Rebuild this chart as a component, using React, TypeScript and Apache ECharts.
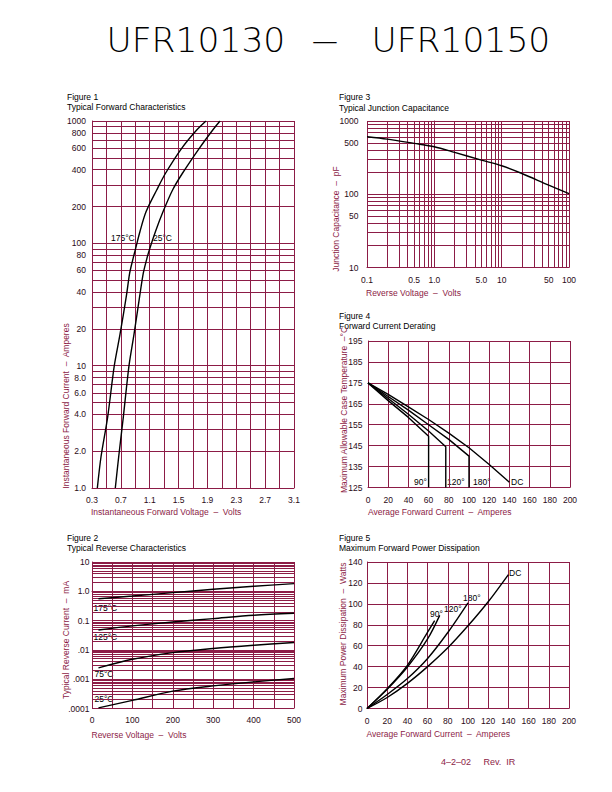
import React, { useEffect, useRef } from 'react';
import * as echarts from 'echarts';

// ---------- Figure 1: Typical Forward Characteristics ----------
const fig1Current = [1, 1.8, 3.8, 10, 18, 37, 57, 73, 88, 125, 181, 273, 374, 598, 833, 1000];
const fig1V175 = [0.374, 0.425, 0.517, 0.609, 0.688, 0.776, 0.822, 0.864, 0.899, 0.965, 1.049, 1.197, 1.319, 1.543, 1.742, 1.88];
const fig1V25 = [0.623, 0.67, 0.734, 0.813, 0.882, 0.961, 1.011, 1.055, 1.094, 1.18, 1.284, 1.417, 1.554, 1.787, 1.966, 2.074];
const fig1XTicks = [0.3, 0.7, 1.1, 1.5, 1.9, 2.3, 2.7, 3.1];
const fig1YTickVals = [1, 2, 4, 6, 8, 10, 20, 40, 60, 80, 100, 200, 400, 600, 800, 1000];
const fig1YTickText = ['1.0', '2.0', '4.0', '6.0', '8.0', '10', '20', '40', '60', '80', '100', '200', '400', '600', '800', '1000'];

// ---------- Figure 2: Typical Reverse Characteristics ----------
const fig2Volts = [16, 100, 200, 300, 400, 500];
const fig2I175 = [0.56, 0.69, 0.9, 1.17, 1.48, 1.83];
const fig2I125 = [0.048, 0.066, 0.09, 0.117, 0.152, 0.178];
const fig2I75 = [0.00244, 0.0048, 0.0081, 0.0112, 0.0144, 0.0178];
const fig2I25 = [0.000105, 0.00019, 0.00039, 0.00059, 0.00081, 0.00106];
const fig2YTickVals = [0.0001, 0.001, 0.01, 0.1, 1, 10];
const fig2YTickText = ['.0001', '.001', '.01', '0.1', '1.0', '10'];

// ---------- Figure 3: Typical Junction Capacitance ----------
const fig3Volts = [0.1, 0.2, 0.5, 1, 2, 5, 10, 20, 50, 100];
const fig3Cap = [610, 566, 495, 445, 373, 292, 245, 192, 133, 102];
const fig3XTickVals = [0.1, 0.5, 1, 5, 10, 50, 100];
const fig3XTickText = ['0.1', '0.5', '1.0', '5.0', '10', '50', '100'];
const fig3YTickVals = [10, 50, 100, 500, 1000];
const fig3YTickText = ['10', '50', '100', '500', '1000'];

// ---------- Figure 4: Forward Current Derating ----------
const fig4DcA = [0, 20, 40, 60, 80, 100, 120, 140];
const fig4DcT = [175, 169.5, 163.5, 157.5, 151, 144, 136, 127.5];
const fig4S180A = [0, 20, 40, 60, 80, 100, 100];
const fig4S180T = [175, 168.5, 162, 155, 148, 140, 125];
const fig4S120A = [0, 20, 40, 60, 77, 77];
const fig4S120T = [175, 167.5, 160, 152, 144.5, 125];
const fig4S90A = [0, 20, 40, 60, 60];
const fig4S90T = [175, 166.5, 158.5, 149.5, 125];
const fig4YTicks = [125, 135, 145, 155, 165, 175, 185, 195];

// ---------- Figure 5: Maximum Forward Power Dissipation ----------
const fig5DcA = [0, 20, 40, 60, 80, 100, 120, 140];
const fig5DcW = [0, 10.5, 24, 40, 58, 79, 102, 128];
const fig5S180A = [0, 20, 40, 60, 80, 100];
const fig5S180W = [0, 13.4, 28.6, 47.8, 72.6, 101];
const fig5S120A = [0, 20, 40, 60, 72];
const fig5S120W = [0, 18.4, 39.7, 66.5, 89];
const fig5S90A = [0, 20, 40, 60, 67];
const fig5S90W = [0, 19, 41.3, 73, 84];

// ---------- styling ----------
const GRID = '#8c1c46';
const LABEL = '#2b0b17';
const NAME = '#8c1c46';
const FONT = '"Liberation Sans", Arial, sans-serif';
const FS = 8.5;

const lg = (v: number) => Math.log10(v);
const decadeLines = (fromExp: number, toExp: number) => {
  const out: number[] = [];
  for (let e = fromExp; e < toExp; e++) for (let m = 1; m < 10; m++) out.push(lg(m * Math.pow(10, e)));
  out.push(toExp);
  return out;
};
const logFormatter = (vals: number[], texts: string[]) => (v: number) => {
  const i = vals.findIndex((t) => Math.abs(lg(t) - v) < 1e-6);
  return i >= 0 ? texts[i] : '';
};
const zip = (xs: number[], ys: number[], fx = (v: number) => v, fy = (v: number) => v) =>
  xs.map((x, i) => [fx(x), fy(ys[i])]);

function axis(gridIndex: number, extra: any, labelMargin: number) {
  return {
    gridIndex,
    type: 'value',
    axisLine: { show: true, lineStyle: { color: GRID, width: 1 } },
    splitLine: { show: true, lineStyle: { color: GRID, width: 1 } },
    ...extra,
    axisTick: { show: false, ...(extra.axisTick || {}) },
    axisLabel: { color: LABEL, fontSize: FS, fontFamily: FONT, margin: labelMargin, showMinLabel: true, showMaxLabel: true, ...(extra.axisLabel || {}) },
  };
}

function line(xi: number, data: number[][], smooth: number | boolean = 0.3) {
  return {
    type: 'line',
    xAxisIndex: xi,
    yAxisIndex: xi,
    data,
    smooth,
    symbol: 'none',
    silent: true,
    lineStyle: { color: '#000', width: 1.4 },
  };
}

function txt(x: number, y: number, text: string, o: any = {}) {
  return {
    type: 'text',
    x,
    y,
    rotation: o.rotation || 0,
    silent: true,
    style: {
      text,
      fill: o.fill || '#000',
      font: `${o.weight || 'normal'} ${o.size || FS}px ${o.family || FONT}`,
      textAlign: o.align || 'left',
      textVerticalAlign: 'middle',
      backgroundColor: o.bg,
      padding: o.bg ? [0, 1] : undefined,
    },
    scaleX: o.scaleX || 1,
  };
}

export default function App() {
  const ref = useRef<HTMLDivElement>(null);
  useEffect(() => {
    if (!ref.current) return;
    const chart = echarts.init(ref.current, undefined, { renderer: 'svg' });
    const option: any = {
      animation: false,
      backgroundColor: '#fff',
      grid: [
        { left: 92, top: 121, width: 202, height: 367 },
        { left: 92, top: 562, width: 202, height: 146.5 },
        { left: 367, top: 121, width: 202, height: 146.5 },
        { left: 368, top: 341, width: 202, height: 146.5 },
        { left: 367, top: 562, width: 202, height: 146.5 },
      ],
      xAxis: [
        axis(0, {
          min: 0.3, max: 3.1,
          axisTick: { customValues: [0.3, 0.5, 0.7, 0.9, 1.1, 1.3, 1.5, 1.7, 1.9, 2.1, 2.3, 2.5, 2.7, 2.9, 3.1] },
          axisLabel: { customValues: fig1XTicks, formatter: (v: number) => v.toFixed(1) },
        }, 7.5),
        axis(1, {
          min: 0, max: 500, interval: 50,
          axisLabel: { formatter: (v: number) => (Math.round(v) % 100 === 0 ? String(Math.round(v)) : '') },
        }, 6.5),
        axis(2, {
          min: -1, max: 2,
          axisTick: { customValues: decadeLines(-1, 2) },
          axisLabel: { customValues: fig3XTickVals.map(lg), formatter: logFormatter(fig3XTickVals, fig3XTickText) },
        }, 7.5),
        axis(3, { min: 0, max: 200, interval: 20 }, 7.5),
        axis(4, { min: 0, max: 200, interval: 20 }, 7.5),
      ],
      yAxis: [
        axis(0, {
          min: 0, max: 3,
          axisTick: { customValues: decadeLines(0, 3) },
          axisLabel: { customValues: fig1YTickVals.map(lg), formatter: logFormatter(fig1YTickVals, fig1YTickText) },
        }, 6),
        axis(1, {
          min: -4, max: 1,
          axisTick: { customValues: decadeLines(-4, 1) },
          axisLabel: { customValues: fig2YTickVals.map(lg), formatter: logFormatter(fig2YTickVals, fig2YTickText) },
        }, 2.5),
        axis(2, {
          min: 1, max: 3,
          axisTick: { customValues: decadeLines(1, 3) },
          axisLabel: { customValues: fig3YTickVals.map(lg), formatter: logFormatter(fig3YTickVals, fig3YTickText) },
        }, 8.5),
        axis(3, {
          min: 125, max: 195,
          axisTick: { customValues: fig4YTicks },
          axisLabel: { customValues: fig4YTicks },
        }, 5.5),
        axis(4, { min: 0, max: 140, interval: 20 }, 4.5),
      ],
      series: [
        line(0, zip(fig1V175, fig1Current, (v) => v, lg)),
        line(0, zip(fig1V25, fig1Current, (v) => v, lg)),
        line(1, zip(fig2Volts, fig2I175, (v) => v, lg)),
        line(1, zip(fig2Volts, fig2I125, (v) => v, lg)),
        line(1, zip(fig2Volts, fig2I75, (v) => v, lg)),
        line(1, zip(fig2Volts, fig2I25, (v) => v, lg)),
        line(2, zip(fig3Volts, fig3Cap, lg, lg)),
        line(3, zip(fig4DcA, fig4DcT), false),
        line(3, zip(fig4S180A, fig4S180T), false),
        line(3, zip(fig4S120A, fig4S120T), false),
        line(3, zip(fig4S90A, fig4S90T), false),
        line(4, zip(fig5DcA, fig5DcW)),
        line(4, zip(fig5S180A, fig5S180W)),
        line(4, zip(fig5S120A, fig5S120W)),
        line(4, zip(fig5S90A, fig5S90W)),
      ],
      graphic: [
        // page title
        txt(106.5, 40, 'UFR10130', { size: 34.5, family: '"DejaVu Sans", sans-serif', weight: 200 }),
        txt(325, 40, '—', { size: 34.5, family: '"DejaVu Sans", sans-serif', weight: 200, align: 'center', scaleX: 0.75 }),
        txt(371.5, 40, 'UFR10150', { size: 34.5, family: '"DejaVu Sans", sans-serif', weight: 200 }),

        // figure 1
        txt(67, 97, 'Figure 1'),
        txt(67, 107, 'Typical Forward Characteristics'),
        txt(91, 512, 'Instantaneous Forward Voltage  –  Volts', { fill: NAME }),
        txt(66, 406, 'Instantaneous Forward Current  –  Amperes', { fill: NAME, rotation: Math.PI / 2, align: 'center' }),
        txt(111, 238, '175°C'),
        txt(153, 238, '25°C'),

        // figure 2
        txt(67, 538, 'Figure 2'),
        txt(67, 547.5, 'Typical Reverse Characteristics'),
        txt(91.5, 734.5, 'Reverse Voltage  –  Volts', { fill: NAME }),
        txt(66, 640, 'Typical Reverse Current  –  mA', { fill: NAME, rotation: Math.PI / 2, align: 'center' }),
        txt(92.5, 607.5, '175°C', { bg: '#fff' }),
        txt(92.5, 636.5, '125°C', { bg: '#fff' }),
        txt(93.5, 674, '75°C', { bg: '#fff' }),
        txt(93.5, 699, '25°C', { bg: '#fff' }),

        // figure 3
        txt(339, 97, 'Figure 3'),
        txt(339, 107.5, 'Typical Junction Capacitance'),
        txt(366, 293, 'Reverse Voltage  –  Volts', { fill: NAME }),
        txt(336, 219, 'Junction Capacitance  –  pF', { fill: NAME, rotation: Math.PI / 2, align: 'center' }),

        // figure 4
        txt(339, 316, 'Figure 4'),
        txt(339, 326, 'Forward Current Derating'),
        txt(368, 512, 'Average Forward Current  –  Amperes', { fill: NAME }),
        txt(344, 410, 'Maximum Allowable Case Temperature  –°C', { fill: NAME, rotation: Math.PI / 2, align: 'center' }),
        txt(413, 482, '90°', { bg: '#fff' }),
        txt(446, 482, '120°', { bg: '#fff' }),
        txt(472, 482, '180°', { bg: '#fff' }),
        txt(510, 482, 'DC', { bg: '#fff' }),

        // figure 5
        txt(339, 538, 'Figure 5'),
        txt(339, 547.5, 'Maximum Forward Power Dissipation'),
        txt(366.5, 734, 'Average Forward Current  –  Amperes', { fill: NAME }),
        txt(343, 634, 'Maximum Power Dissipation  –  Watts', { fill: NAME, rotation: Math.PI / 2, align: 'center' }),
        txt(508, 573, 'DC', { bg: '#fff' }),
        txt(462, 598, '180°', { bg: '#fff' }),
        txt(443, 609, '120°', { bg: '#fff' }),
        txt(429, 614, '90°', { bg: '#fff' }),

        // footer
        txt(441, 762, '4–2–02     Rev.  IR', { fill: NAME, size: 9 }),
      ],
    };
    chart.setOption(option);
    return () => chart.dispose();
  }, []);
  return <div ref={ref} style={{ position: 'absolute', left: 0, top: 0, width: 612, height: 792 }} />;
}
